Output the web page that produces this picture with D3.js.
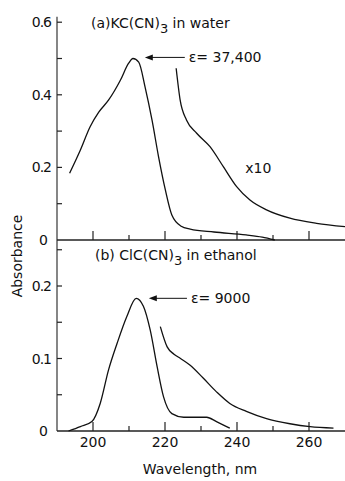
<!DOCTYPE html>
<html>
<head>
<meta charset="utf-8">
<script src="https://cdn.jsdelivr.net/npm/d3@7"></script>
<style>
  body { margin: 0; background: #fff; }
  svg text { font-family: "DejaVu Sans", sans-serif; fill: #111; }
</style>
</head>
<body>
<div id="chart"></div>
<script>
// (a) KC(CN)3 in water
var waterLambda = [193.5, 196.5, 199.2, 201.6, 204.3, 207.6, 209.9, 211.1, 212.7, 214.5, 216.4, 218.2, 220.1, 221.9, 224.5, 227, 233.6, 242.5, 247, 250.5];
var waterAbs = [0.184, 0.248, 0.312, 0.352, 0.385, 0.44, 0.487, 0.50, 0.49, 0.42, 0.33, 0.23, 0.138, 0.069, 0.038, 0.03, 0.022, 0.014, 0.008, 0.0];
// x10 trace
var water10Lambda = [223.1, 224.2, 226, 228.8, 232.5, 236.2, 239.9, 243.6, 248.2, 254.7, 262.1, 270];
var water10Abs = [0.473, 0.386, 0.33, 0.294, 0.257, 0.202, 0.147, 0.11, 0.083, 0.06, 0.046, 0.037];

// (b) ClC(CN)3 in ethanol
var ethLambda = [193.2, 196.5, 199.7, 202, 204.3, 206.7, 209.4, 212, 214, 215.9, 217.8, 219.6, 221.9, 225.2, 229, 231.6, 234.3, 238];
var ethAbs = [0.0, 0.006, 0.013, 0.038, 0.084, 0.121, 0.158, 0.183, 0.172, 0.139, 0.089, 0.047, 0.024, 0.019, 0.019, 0.019, 0.013, 0.004];
var eth10Lambda = [218.7, 220.6, 222.5, 224.3, 226.9, 230.6, 234.3, 238, 242.6, 248.2, 254.7, 260.3, 266.8];
var eth10Abs = [0.144, 0.116, 0.106, 0.10, 0.091, 0.073, 0.054, 0.038, 0.027, 0.017, 0.010, 0.006, 0.004];

var xMajor = [200, 220, 240, 260];
var xMinor = [210, 230, 250];
var topLabels = [0, 0.2, 0.4, 0.6];
var topTicks = [0.1, 0.2, 0.3, 0.4, 0.5, 0.6];
var botLabels = [0, 0.1, 0.2];
var botTicks = [0.05, 0.1, 0.15, 0.2, 0.25];

var w = 345, h = 481;
var left = 57;

var xScale = d3.scaleLinear().domain([190, 270]).range([left, 345]);
var yTop = d3.scaleLinear().domain([0, 0.6]).range([240, 22.2]);
var yBot = d3.scaleLinear().domain([0, 0.2]).range([431, 286]);

var svg = d3.select("#chart").append("svg")
            .attr("width", w)
            .attr("height", h);

function zip(xs, ys) {
  return xs.map(function(x, i) { return [x, ys[i]]; });
}

function curve(data, yScale) {
  svg.append("path")
     .datum(data)
     .attr("fill", "none")
     .attr("stroke", "#111")
     .attr("stroke-width", 1.3)
     .attr("d", d3.line()
        .x(function(d) { return xScale(d[0]); })
        .y(function(d) { return yScale(d[1]); })
        .curve(d3.curveMonotoneX));
}

// left axis, one line through both panels
svg.append("line")
   .attr("x1", left).attr("x2", left)
   .attr("y1", yTop(0.615)).attr("y2", yBot(0))
   .attr("stroke", "#444").attr("stroke-width", 1.3);

// x axes
[[yTop, 240], [yBot, 431]].forEach(function(p) {
  var y0 = p[1];
  svg.append("line")
     .attr("x1", left).attr("x2", w)
     .attr("y1", y0).attr("y2", y0)
     .attr("stroke", "#222").attr("stroke-width", 1.4);
  svg.selectAll(null).data(xMajor).enter().append("line")
     .attr("x1", function(d) { return xScale(d); })
     .attr("x2", function(d) { return xScale(d); })
     .attr("y1", y0).attr("y2", y0 - 9)
     .attr("stroke", "#222").attr("stroke-width", 1.2);
  svg.selectAll(null).data(xMinor).enter().append("line")
     .attr("x1", function(d) { return xScale(d); })
     .attr("x2", function(d) { return xScale(d); })
     .attr("y1", y0).attr("y2", y0 - 5)
     .attr("stroke", "#222").attr("stroke-width", 1.2);
});

// y ticks
function yTicks(ticks, labels, yScale) {
  svg.selectAll(null).data(ticks).enter().append("line")
     .attr("x1", left).attr("x2", left + 5)
     .attr("y1", function(d) { return yScale(d); })
     .attr("y2", function(d) { return yScale(d); })
     .attr("stroke", "#222").attr("stroke-width", 1.2);
  svg.selectAll(null).data(labels).enter().append("text")
     .attr("x", function(d) { return d === 0 ? 47 : 51; })
     .attr("y", function(d) { return yScale(d) + 5; })
     .attr("text-anchor", "end")
     .attr("font-size", 14)
     .attr("letter-spacing", -1)
     .text(function(d) { return d === 0 ? "0" : d3.format(".1f")(d); });
}
yTicks(topTicks, topLabels, yTop);
yTicks(botTicks, botLabels, yBot);

// x tick labels
svg.selectAll(null).data(xMajor).enter().append("text")
   .attr("x", function(d) { return xScale(d); })
   .attr("y", 447)
   .attr("text-anchor", "middle")
   .attr("font-size", 14)
   .text(function(d) { return d; });

svg.append("text")
   .attr("x", 200).attr("y", 474)
   .attr("text-anchor", "middle")
   .attr("font-size", 14)
   .text("Wavelength, nm");

svg.append("text")
   .attr("transform", "translate(22,256) rotate(-90)")
   .attr("text-anchor", "middle")
   .attr("font-size", 14)
   .text("Absorbance");

// curves
curve(zip(waterLambda, waterAbs), yTop);
curve(zip(water10Lambda, water10Abs), yTop);
curve(zip(ethLambda, ethAbs), yBot);
curve(zip(eth10Lambda, eth10Abs), yBot);

// panel titles
function title(x, y, pre, post) {
  var t = svg.append("text").attr("x", x).attr("y", y).attr("font-size", 14);
  t.append("tspan").text(pre);
  t.append("tspan").attr("dy", 5).attr("font-size", 13).text("3");
  t.append("tspan").attr("dy", -5).text(post);
}
title(91, 28, "(a)KC(CN)", " in water");
title(95, 260, "(b) ClC(CN)", " in ethanol");

// epsilon arrows
function arrow(x1, x2, y, label) {
  svg.append("line")
     .attr("x1", x1 + 6).attr("x2", x2)
     .attr("y1", y).attr("y2", y)
     .attr("stroke", "#111").attr("stroke-width", 1);
  svg.append("path")
     .attr("d", "M" + x1 + "," + y + "l8,-3l0,6z")
     .attr("fill", "#111");
  svg.append("text")
     .attr("x", x2 + 4).attr("y", y + 5)
     .attr("font-size", 14)
     .text(label);
}
arrow(xScale(214.4), xScale(225.5), yTop(0.503), "\u03b5= 37,400");
arrow(xScale(215.5), xScale(226.1), yBot(0.183), "\u03b5= 9000");

svg.append("text")
   .attr("x", xScale(242.3)).attr("y", yTop(0.185))
   .attr("font-size", 14)
   .text("x10");
</script>
</body>
</html>
